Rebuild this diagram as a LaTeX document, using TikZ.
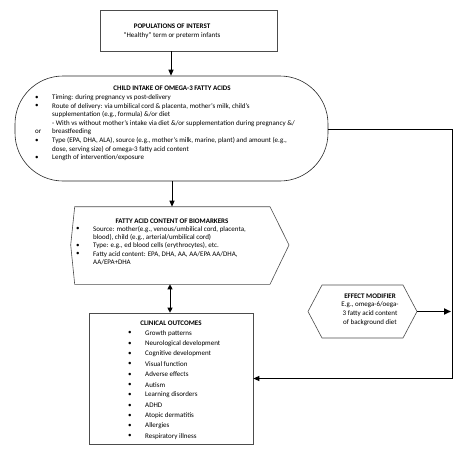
\documentclass[tikz,border=0pt]{standalone}
\usepackage{fontspec}
\setmainfont{Carlito}
\usetikzlibrary{arrows.meta}
\newcommand\bul{\textbullet}
\tikzset{
  boxline/.style={draw=black!70, line width=0.6pt},
  txt/.style={inner sep=0pt, font=\fontsize{7}{8.6}\selectfont},
  ttl/.style={inner sep=0pt, font=\fontsize{7}{8.6}\selectfont\bfseries},
  arr/.style={line width=1pt, -{Triangle[length=6pt,width=5pt]}},
  darr/.style={line width=1pt, {Triangle[length=5pt,width=5pt]}-{Triangle[length=5pt,width=5pt]}},
  thickarr/.style={line width=1.6pt, -{Triangle[length=7pt,width=6pt]}}
}
\begin{document}
\begin{tikzpicture}[x=1pt,y=-1pt]
\useasboundingbox (0,0) rectangle (463,455);
% boxes
\node[boxline, minimum width=177pt, minimum height=41pt, inner sep=0pt] (pop) at (188.5,30.5) {};
\node[boxline, draw=black!85, rounded corners=48pt, minimum width=313pt, minimum height=105pt, inner sep=0pt] (omega) at (171.5,128.5) {};
\draw[boxline] (74.7,206.7) coordinate (bmtl) -- (270,206.7) -- (289,245) coordinate (bmr) -- (270,284.3) -- (74.7,284.3) -- (70.7,245) -- cycle;
\coordinate (bmtop) at (172,206.7);
\coordinate (bmbot) at (170,284.3);
\draw[boxline] (322,285) -- (403,285) -- (417,311.5) coordinate (effr) -- (403,338) -- (322,338) -- (308,311.5) -- cycle;
\node[boxline, minimum width=164pt, minimum height=131pt, inner sep=0pt] (clin) at (171,378.5) {};
% top box text
\node[ttl] (popt) at (172,26) {POPULATIONS OF INTERST};
\node[txt] (pops) at (172,36) {“Healthy” term or preterm infants};
% omega text
\node[ttl] (omt) at (172,88) {CHILD INTAKE OF OMEGA-3 FATTY ACIDS};
\foreach \y/\b/\t [count=\i] in {
  97.5/\bul/{Timing: during pregnancy vs post-delivery},
  106.1/\bul/{Route of delivery: via umbilical cord \& placenta, mother’s milk, child’s},
  114.7//{supplementation (e.g., formula) \&/or diet},
  123.3//{- With vs without mother’s intake via diet \&/or supplementation during pregnancy \&/},
  131.9/or/{breastfeeding},
  140.5/\bul/{Type (EPA, DHA, ALA), source (e.g., mother’s milk, marine, plant) and amount (e.g.,},
  149.1//{dose, serving size) of omega-3 fatty acid content},
  157.7/\bul/{Length of intervention/exposure}}{
  \node[txt, anchor=west] (ob\i) at (35,\y) {\b};
  \node[txt, anchor=west] (ol\i) at (52,\y) {\t};
}
% biomarker text
\node[ttl] (bmt) at (172,221) {FATTY ACID CONTENT OF BIOMARKERS};
\foreach \y/\b/\t [count=\i] in {
  229.3/\bul/{Source: mother(e.g., venous/umbilical cord, placenta,},
  237.6//{blood), child (e.g., arterial/umbilical cord)},
  245.9/\bul/{Type: e.g., ed blood cells (erythrocytes), etc.},
  254.2/\bul/{Fatty acid content: EPA, DHA, AA, AA/EPA AA/DHA,},
  262.5//{AA/EPA+DHA}}{
  \node[txt, anchor=west] (bb\i) at (76,\y) {\b};
  \node[txt, anchor=west] (bl\i) at (93,\y) {\t};
}
% effect modifier text
\node[ttl] (eft) at (370,296) {EFFECT MODIFIER};
\node[txt, align=center, font=\fontsize{7}{9}\selectfont, anchor=north] (efs) at (370,301) {E.g., omega-6/oega-\\3 fatty acid content\\of background diet};
% clinical text
\node[ttl] (clt) at (171,323) {CLINICAL OUTCOMES};
\foreach \t [count=\i] in {Growth patterns, Neurological development, Cognitive development, Visual function, Adverse effects, Autism, Learning disorders, ADHD, Atopic dermatitis, Allergies, Respiratory illness}{
  \node[txt, anchor=west] (cb\i) at (128,{323+10.3*\i}) {\bul};
  \node[txt, anchor=west] (cl\i) at (145,{323+10.3*\i}) {\t};
}
% connectors
\draw[arr] (pop.south -| 171,0) -- (omega.north -| 171,0);
\draw[arr] (omega.south -| bmtop) -- (bmtop);
\draw[darr] (bmbot) -- (clin.north -| bmbot);
\coordinate (rtop) at (452,129);
\coordinate (rbot) at (452,378.5);
\coordinate (effend) at (451,311.5);
\draw[line width=1pt] (327.5,129) -- (rtop) -- (rbot);
\draw[arr] (rbot) -- (clin.east);
\draw[thickarr] (effr) -- (effend);
\end{tikzpicture}
\end{document}
